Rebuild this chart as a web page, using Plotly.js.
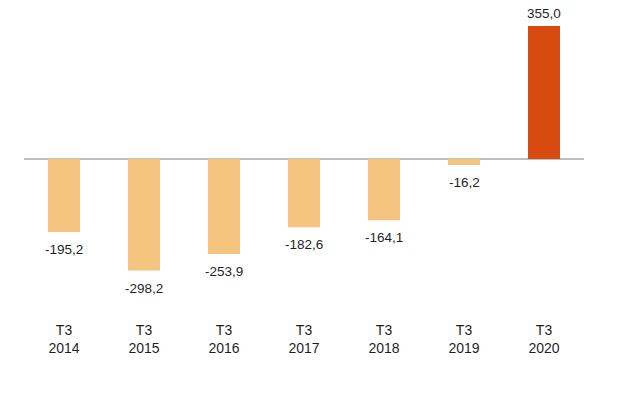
<!DOCTYPE html>
<html>
<head>
<meta charset="utf-8">
<script src="https://cdn.plot.ly/plotly-3.0.1.min.js"></script>
<style>html,body{margin:0;padding:0;background:#fff;}#chart{width:643px;height:397px;}</style>
</head>
<body>
<div id="chart"></div>
<script>
const categories = ["T3<br>2014", "T3<br>2015", "T3<br>2016", "T3<br>2017", "T3<br>2018", "T3<br>2019", "T3<br>2020"];
const values = [-195.2, -298.2, -253.9, -182.6, -164.1, -16.2, 355.0];
const labels = ["-195,2", "-298,2", "-253,9", "-182,6", "-164,1", "-16,2", "355,0"];
const colors = values.map((v, i) => i === values.length - 1 ? "#D84B10" : "#F5C47F");

const annotations = values.map((v, i) => ({
  x: categories[i], y: v, xref: "x", yref: "y",
  text: labels[i], showarrow: false,
  yanchor: v < 0 ? "top" : "bottom",
  yshift: v < 0 ? -8 : 3,
  font: {family: "Liberation Sans, Arial, sans-serif", size: 13.5, color: "#1f1f1f"}
}));

const trace = {
  type: "bar", x: categories, y: values,
  marker: {color: colors},
  hoverinfo: "none"
};

const layout = {
  width: 643, height: 397,
  margin: {l: 24, r: 59, t: 10, b: 85},
  paper_bgcolor: "#fff", plot_bgcolor: "#fff",
  bargap: 0.6,
  showlegend: false,
  xaxis: {
    showline: false, showgrid: false, zeroline: false, ticks: "",
    ticklabelstandoff: 8,
    tickfont: {family: "Liberation Sans, Arial, sans-serif", size: 14, color: "#1f1f1f"},
    fixedrange: true
  },
  yaxis: {
    range: [-409, 398], showgrid: false, showticklabels: false, ticks: "",
    zeroline: true, zerolinecolor: "#BFBFBF", zerolinewidth: 1.3, showline: false,
    fixedrange: true
  },
  annotations: annotations
};

Plotly.newPlot("chart", [trace], layout, {displayModeBar: false, staticPlot: true});
</script>
</body>
</html>
